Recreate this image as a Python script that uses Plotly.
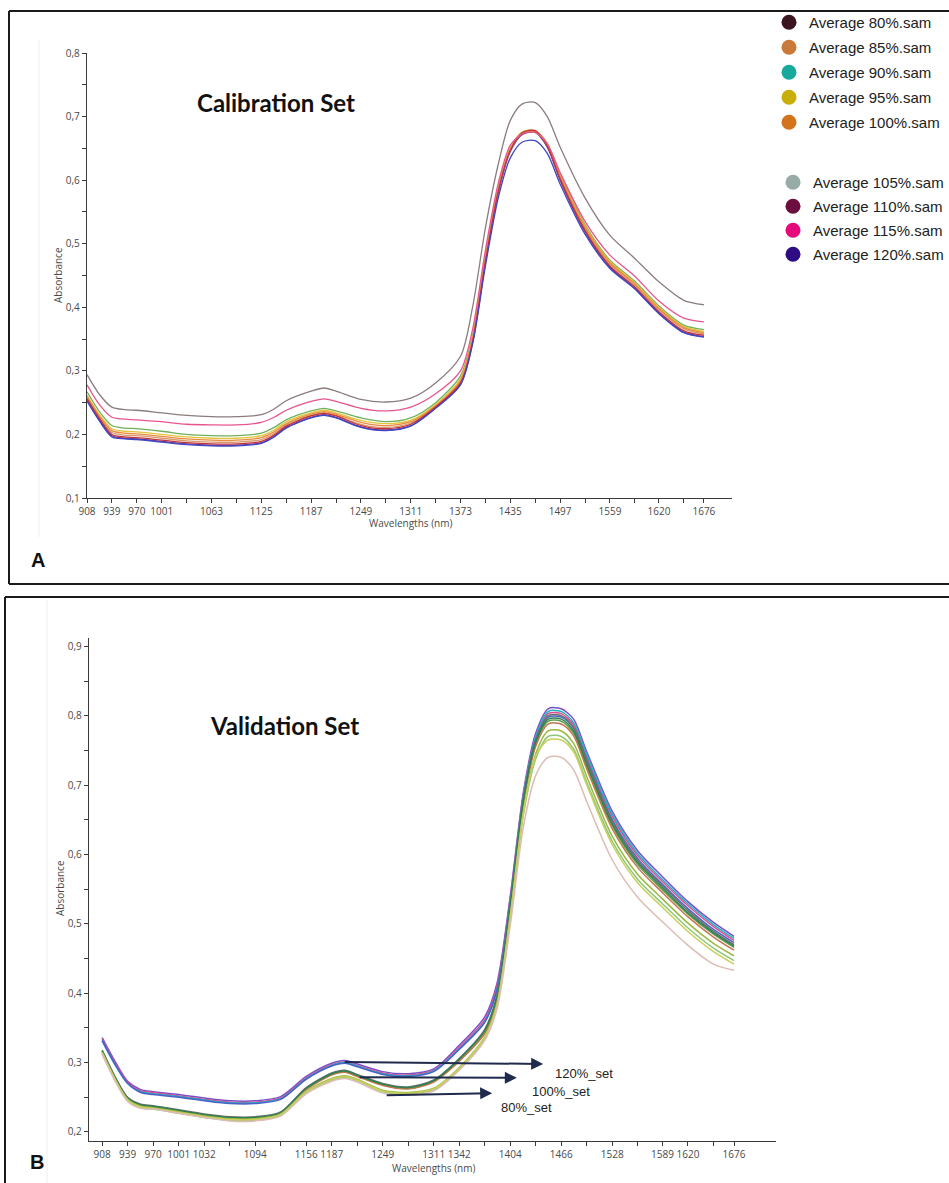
import plotly.graph_objects as go

W, H = 949, 1183

# ---------------- Panel A: calibration set ----------------
wl_A = [908, 924, 939, 955, 970, 1001, 1032, 1063, 1094, 1125, 1141, 1156, 1187, 1203, 1218,
        1249, 1280, 1311, 1342, 1373, 1388, 1404, 1420, 1435, 1450, 1466, 1481, 1497, 1528,
        1559, 1589, 1620, 1651, 1676]

cal_105 = [0.294, 0.262, 0.243, 0.239, 0.238, 0.234, 0.230, 0.228, 0.228, 0.231, 0.240, 0.253, 0.268, 0.273, 0.268,
           0.255, 0.251, 0.257, 0.281, 0.323, 0.400, 0.525, 0.625, 0.694, 0.720, 0.722, 0.700, 0.652, 0.572,
           0.513, 0.478, 0.440, 0.411, 0.404]
cal_115 = [0.278, 0.246, 0.227, 0.224, 0.223, 0.220, 0.216, 0.215, 0.215, 0.219, 0.227, 0.238, 0.252, 0.256, 0.252,
           0.241, 0.237, 0.243, 0.264, 0.300, 0.365, 0.490, 0.595, 0.655, 0.673, 0.675, 0.657, 0.612, 0.535,
           0.482, 0.450, 0.410, 0.383, 0.377]
cal_90 = [0.267, 0.235, 0.214, 0.210, 0.209, 0.205, 0.200, 0.198, 0.198, 0.202, 0.211, 0.223, 0.237, 0.241, 0.237,
          0.226, 0.220, 0.226, 0.250, 0.292, 0.355, 0.480, 0.588, 0.650, 0.675, 0.677, 0.658, 0.610, 0.530,
          0.474, 0.442, 0.402, 0.372, 0.365]
cal_95 = [0.262, 0.230, 0.209, 0.205, 0.204, 0.200, 0.196, 0.194, 0.194, 0.198, 0.207, 0.220, 0.234, 0.238, 0.234,
          0.222, 0.217, 0.222, 0.247, 0.288, 0.352, 0.478, 0.586, 0.650, 0.676, 0.678, 0.658, 0.608, 0.528,
          0.472, 0.440, 0.400, 0.370, 0.362]
cal_100 = [0.260, 0.228, 0.206, 0.202, 0.201, 0.197, 0.193, 0.191, 0.191, 0.195, 0.204, 0.217, 0.232, 0.236, 0.232,
           0.219, 0.214, 0.220, 0.245, 0.285, 0.350, 0.476, 0.585, 0.648, 0.674, 0.676, 0.656, 0.606, 0.526,
           0.470, 0.438, 0.398, 0.368, 0.360]
cal_85 = [0.258, 0.226, 0.203, 0.199, 0.198, 0.194, 0.190, 0.188, 0.188, 0.192, 0.201, 0.215, 0.230, 0.234, 0.230,
          0.216, 0.211, 0.218, 0.244, 0.283, 0.348, 0.474, 0.584, 0.648, 0.675, 0.677, 0.655, 0.604, 0.524,
          0.468, 0.436, 0.396, 0.366, 0.358]
cal_110 = [0.256, 0.224, 0.200, 0.196, 0.195, 0.191, 0.187, 0.185, 0.185, 0.189, 0.199, 0.213, 0.229, 0.233, 0.229,
           0.214, 0.209, 0.216, 0.243, 0.281, 0.346, 0.472, 0.582, 0.647, 0.675, 0.678, 0.654, 0.602, 0.521,
           0.465, 0.433, 0.393, 0.363, 0.356]
cal_80 = [0.254, 0.222, 0.198, 0.194, 0.193, 0.189, 0.185, 0.183, 0.183, 0.187, 0.197, 0.211, 0.227, 0.231, 0.227,
          0.212, 0.207, 0.214, 0.242, 0.279, 0.344, 0.470, 0.580, 0.645, 0.672, 0.675, 0.652, 0.600, 0.519,
          0.463, 0.431, 0.391, 0.361, 0.354]
cal_120 = [0.252, 0.220, 0.196, 0.193, 0.192, 0.188, 0.184, 0.182, 0.182, 0.186, 0.196, 0.210, 0.226, 0.230, 0.226,
           0.211, 0.206, 0.213, 0.241, 0.278, 0.342, 0.465, 0.572, 0.635, 0.660, 0.662, 0.642, 0.594, 0.515,
           0.461, 0.430, 0.390, 0.360, 0.353]

cal_names = ["Average 80%.sam", "Average 85%.sam", "Average 90%.sam", "Average 95%.sam", "Average 100%.sam",
             "Average 105%.sam", "Average 110%.sam", "Average 115%.sam", "Average 120%.sam"]
cal_series = [cal_80, cal_85, cal_90, cal_95, cal_100, cal_105, cal_110, cal_115, cal_120]
cal_line_colors = ["#6a3b8c", "#d79a6c", "#6fb05c", "#e2c43a", "#e98a3c", "#8c7d7d", "#c0303e", "#e8558e", "#3c46c6"]
legend_colors = ["#3b1620", "#c97a3b", "#17a99c", "#c9ad08", "#d3731c", "#97aba7", "#6c0e40", "#e6097b", "#2d0c84"]

xticks_A = [908, 939, 970, 1001, 1032, 1063, 1094, 1125, 1156, 1187, 1218, 1249, 1280, 1311, 1342, 1373,
            1404, 1435, 1466, 1497, 1528, 1559, 1589, 1620, 1651, 1676]
xlabels_A = ["908", "939", "970", "1001", "", "1063", "", "1125", "", "1187", "", "1249", "", "1311", "", "1373",
             "", "1435", "", "1497", "", "1559", "", "1620", "", "1676"]
yticks_A = [0.1, 0.15, 0.2, 0.25, 0.3, 0.35, 0.4, 0.45, 0.5, 0.55, 0.6, 0.65, 0.7, 0.75, 0.8]
ylabels_A = ["0,1", "", "0,2", "", "0,3", "", "0,4", "", "0,5", "", "0,6", "", "0,7", "", "0,8"]

# ---------------- Panel B: validation set ----------------
wl_B = [908, 924, 939, 955, 970, 1001, 1032, 1063, 1094, 1125, 1156, 1187, 1203, 1218, 1249, 1280, 1311,
        1342, 1373, 1388, 1404, 1420, 1435, 1450, 1466, 1481, 1497, 1528, 1559, 1589, 1620, 1651, 1676]

val_120_1 = [0.336, 0.301, 0.273, 0.261, 0.258, 0.254, 0.249, 0.245, 0.245, 0.251, 0.280, 0.299, 0.303, 0.298, 0.287, 0.284, 0.291,
             0.325, 0.366, 0.415, 0.540, 0.690, 0.775, 0.810, 0.810, 0.795, 0.748, 0.662, 0.605, 0.568, 0.532, 0.502, 0.482]
val_120_2 = [0.334, 0.299, 0.272, 0.259, 0.257, 0.252, 0.247, 0.243, 0.243, 0.249, 0.278, 0.297, 0.301, 0.296, 0.285, 0.282, 0.289,
             0.322, 0.362, 0.410, 0.535, 0.686, 0.770, 0.803, 0.803, 0.787, 0.740, 0.655, 0.598, 0.561, 0.526, 0.496, 0.476]
val_120_3 = [0.331, 0.296, 0.270, 0.258, 0.255, 0.251, 0.246, 0.242, 0.242, 0.248, 0.277, 0.296, 0.300, 0.295, 0.284, 0.281, 0.288,
             0.320, 0.359, 0.406, 0.532, 0.684, 0.770, 0.806, 0.806, 0.790, 0.744, 0.658, 0.601, 0.564, 0.529, 0.499, 0.479]
val_120_4 = [0.332, 0.297, 0.270, 0.257, 0.254, 0.250, 0.245, 0.241, 0.241, 0.247, 0.276, 0.295, 0.299, 0.294, 0.283, 0.280, 0.287,
             0.319, 0.358, 0.405, 0.530, 0.680, 0.765, 0.798, 0.798, 0.782, 0.736, 0.650, 0.594, 0.557, 0.522, 0.492, 0.473]
val_100_1 = [0.318, 0.279, 0.250, 0.240, 0.238, 0.232, 0.226, 0.222, 0.222, 0.229, 0.264, 0.285, 0.289, 0.283, 0.270, 0.265, 0.275,
             0.306, 0.348, 0.398, 0.528, 0.680, 0.765, 0.800, 0.800, 0.783, 0.735, 0.648, 0.591, 0.555, 0.519, 0.489, 0.470]
val_100_2 = [0.316, 0.277, 0.248, 0.238, 0.236, 0.230, 0.224, 0.220, 0.220, 0.227, 0.262, 0.283, 0.287, 0.281, 0.268, 0.263, 0.273,
             0.303, 0.343, 0.392, 0.524, 0.676, 0.760, 0.792, 0.792, 0.775, 0.727, 0.641, 0.585, 0.549, 0.514, 0.485, 0.466]
val_100_3 = [0.315, 0.276, 0.247, 0.237, 0.235, 0.229, 0.223, 0.219, 0.219, 0.226, 0.261, 0.282, 0.286, 0.280, 0.267, 0.262, 0.272,
             0.302, 0.342, 0.390, 0.522, 0.673, 0.756, 0.788, 0.788, 0.771, 0.723, 0.637, 0.581, 0.545, 0.510, 0.481, 0.462]
val_100_4 = [0.317, 0.278, 0.249, 0.239, 0.237, 0.231, 0.225, 0.221, 0.221, 0.228, 0.263, 0.284, 0.288, 0.282, 0.269, 0.264, 0.274,
             0.305, 0.346, 0.395, 0.526, 0.678, 0.762, 0.795, 0.795, 0.778, 0.730, 0.644, 0.588, 0.552, 0.516, 0.487, 0.468]
val_80_1 = [0.315, 0.276, 0.247, 0.237, 0.235, 0.229, 0.223, 0.219, 0.219, 0.226, 0.259, 0.277, 0.281, 0.276, 0.260, 0.257, 0.263,
            0.293, 0.337, 0.386, 0.512, 0.662, 0.745, 0.778, 0.778, 0.760, 0.712, 0.626, 0.571, 0.536, 0.501, 0.472, 0.454]
val_80_2 = [0.313, 0.274, 0.245, 0.235, 0.233, 0.227, 0.221, 0.217, 0.217, 0.224, 0.257, 0.275, 0.279, 0.274, 0.258, 0.255, 0.261,
            0.291, 0.335, 0.383, 0.508, 0.657, 0.738, 0.770, 0.770, 0.752, 0.704, 0.619, 0.564, 0.529, 0.494, 0.465, 0.447]
val_80_3 = [0.314, 0.275, 0.246, 0.236, 0.234, 0.228, 0.222, 0.218, 0.218, 0.225, 0.258, 0.276, 0.280, 0.275, 0.259, 0.256, 0.262,
            0.292, 0.336, 0.384, 0.510, 0.660, 0.742, 0.765, 0.765, 0.748, 0.700, 0.614, 0.559, 0.524, 0.489, 0.460, 0.442]
val_80_4 = [0.312, 0.273, 0.244, 0.234, 0.233, 0.227, 0.221, 0.216, 0.216, 0.223, 0.255, 0.273, 0.277, 0.272, 0.256, 0.253, 0.259,
            0.289, 0.332, 0.378, 0.498, 0.640, 0.714, 0.740, 0.740, 0.722, 0.676, 0.592, 0.538, 0.503, 0.469, 0.442, 0.433]

val_names = ["120%_1", "120%_2", "120%_3", "120%_4", "100%_1", "100%_2", "100%_3", "100%_4",
             "80%_1", "80%_2", "80%_3", "80%_4"]
val_series = [val_120_1, val_120_2, val_120_3, val_120_4, val_100_1, val_100_2, val_100_3, val_100_4,
              val_80_1, val_80_2, val_80_3, val_80_4]
val_colors = ["#7b4fc9", "#e04a8f", "#22b3c2", "#4a62c8", "#6f6f6f", "#5aa04c", "#c0784a", "#2f7f55",
              "#9bb83e", "#8cc878", "#c9cf5a", "#dcbcb4"]

xticks_B = [908, 939, 970, 1001, 1032, 1063, 1094, 1125, 1156, 1187, 1218, 1249, 1280, 1311, 1342, 1373,
            1404, 1435, 1466, 1497, 1528, 1559, 1589, 1620, 1651, 1676]
xlabels_B = ["908", "939", "970", "1001", "1032", "", "1094", "", "1156", "1187", "", "1249", "", "1311", "1342", "",
             "1404", "", "1466", "", "1528", "", "1589", "1620", "", "1676"]
yticks_B = [0.2, 0.25, 0.3, 0.35, 0.4, 0.45, 0.5, 0.55, 0.6, 0.65, 0.7, 0.75, 0.8, 0.85, 0.9]
ylabels_B = ["0,2", "", "0,3", "", "0,4", "", "0,5", "", "0,6", "", "0,7", "", "0,8", "", "0,9"]


def px(x):
    return x / W


def py(y):
    return 1 - y / H


fig = go.Figure()

for name, vals, col in zip(cal_names, cal_series, cal_line_colors):
    fig.add_trace(go.Scatter(x=wl_A, y=vals, mode="lines", name=name, showlegend=False,
                             line=dict(color=col, width=1.3, shape="spline", smoothing=0.8),
                             xaxis="x", yaxis="y"))

for i, (name, col) in enumerate(zip(cal_names, legend_colors)):
    fig.add_trace(go.Scatter(x=[None], y=[None], mode="markers", name=name, showlegend=True,
                             legendgroup="g%d" % i, legend="legend" if i < 5 else "legend2",
                             marker=dict(size=15, color=col, line=dict(width=0)),
                             xaxis="x", yaxis="y"))

for name, vals, col in zip(val_names, val_series, val_colors):
    fig.add_trace(go.Scatter(x=wl_B, y=vals, mode="lines", name=name, showlegend=False,
                             line=dict(color=col, width=1.5, shape="spline", smoothing=0.8),
                             xaxis="x2", yaxis="y2"))

axis_common = dict(showline=True, linecolor="#3a3a3a", linewidth=1.3, ticks="outside", ticklen=4,
                   tickwidth=1, tickcolor="#3a3a3a", showgrid=False, zeroline=False, automargin=False,
                   tickfont=dict(family="Open Sans", size=10, color="#4a4a4a"))

fig.update_layout(
    width=W, height=H, margin=dict(l=0, r=0, t=0, b=0, autoexpand=False),
    paper_bgcolor="white", plot_bgcolor="white",
    xaxis=dict(domain=[px(87), px(732)], range=[908, 1711], anchor="y",
               tickmode="array", tickvals=xticks_A, ticktext=xlabels_A, **axis_common),
    yaxis=dict(domain=[py(498), py(53)], range=[0.1, 0.8], anchor="x",
               tickmode="array", tickvals=yticks_A, ticktext=ylabels_A, **axis_common),
    xaxis2=dict(domain=[px(89), px(776)], range=[892, 1727], anchor="y2",
                tickmode="array", tickvals=xticks_B, ticktext=xlabels_B, **axis_common),
    yaxis2=dict(domain=[py(1141), py(638)], range=[0.187, 0.912], anchor="x2",
                tickmode="array", tickvals=yticks_B, ticktext=ylabels_B, **axis_common),
    legend=dict(x=px(769), y=py(6), xanchor="left", yanchor="top", bgcolor="rgba(0,0,0,0)",
                font=dict(family="Liberation Sans, Arial", size=15, color="#222222"),
                tracegroupgap=2.5, traceorder="grouped", itemsizing="trace", itemwidth=30),
    legend2=dict(x=px(773), y=py(166), xanchor="left", yanchor="top", bgcolor="rgba(0,0,0,0)",
                 font=dict(family="Liberation Sans, Arial", size=15, color="#222222"),
                 tracegroupgap=1.5, traceorder="grouped", itemsizing="trace", itemwidth=30),
)


def label(text, x, y, size, family, color="#111111", angle=0):
    return dict(text=text, x=px(x), y=py(y), xref="paper", yref="paper", xanchor="center",
                yanchor="middle", textangle=angle, showarrow=False,
                font=dict(family=family, size=size, color=color))


ann = [
    label("<b>Calibration Set</b>", 276, 102, 24, "Lato"),
    label("<b>Validation Set</b>", 284, 725, 24, "Lato"),
    label("<b>A</b>", 38, 560, 20, "Liberation Sans, Arial"),
    label("<b>B</b>", 37, 1162, 20, "Liberation Sans, Arial"),
    label("Wavelengths (nm)", 411, 523, 10, "Open Sans", "#4a4a4a"),
    label("Wavelengths (nm)", 434, 1168, 10, "Open Sans", "#4a4a4a"),
    label("Absorbance", 58, 275, 10, "Open Sans", "#4a4a4a", -90),
    label("Absorbance", 60, 888, 10, "Open Sans", "#4a4a4a", -90),
]

# arrows in panel B (data coordinates)
arrow_col = "#1f2a4d"
for (x0, y0, x1, y1) in [(1201, 0.301, 1444, 0.298), (1219, 0.279, 1412, 0.278), (1252, 0.253, 1382, 0.256)]:
    ann.append(dict(x=x1, y=y1, ax=x0, ay=y0, xref="x2", yref="y2", axref="x2", ayref="y2",
                    text="", showarrow=True, arrowhead=2, arrowsize=1.2, arrowwidth=2, arrowcolor=arrow_col))
for (t, x, y) in [("120%_set", 1456, 0.285), ("100%_set", 1428, 0.259), ("80%_set", 1390, 0.236)]:
    ann.append(dict(text=t, x=x, y=y, xref="x2", yref="y2", xanchor="left", yanchor="middle", showarrow=False,
                    font=dict(family="Liberation Sans, Arial", size=13, color="#222222")))
fig.update_layout(annotations=ann)

# panel frames
shapes = []
bc = "#1a1a1a"
for (x0, y0, x1, y1) in [(9, 11, 949, 11), (9, 11, 9, 584), (9, 584, 949, 584),
                         (5, 597, 949, 597), (5, 597, 5, 1183)]:
    shapes.append(dict(type="line", xref="paper", yref="paper", x0=px(x0), y0=py(y0), x1=px(x1), y1=py(y1),
                       line=dict(color=bc, width=2)))
for (x0, y0, x1, y1) in [(39, 40, 39, 537), (47, 600, 47, 1183)]:
    shapes.append(dict(type="line", xref="paper", yref="paper", x0=px(x0), y0=py(y0), x1=px(x1), y1=py(y1),
                       line=dict(color="#efefef", width=1)))
fig.update_layout(shapes=shapes)

fig.write_html("out.html")
